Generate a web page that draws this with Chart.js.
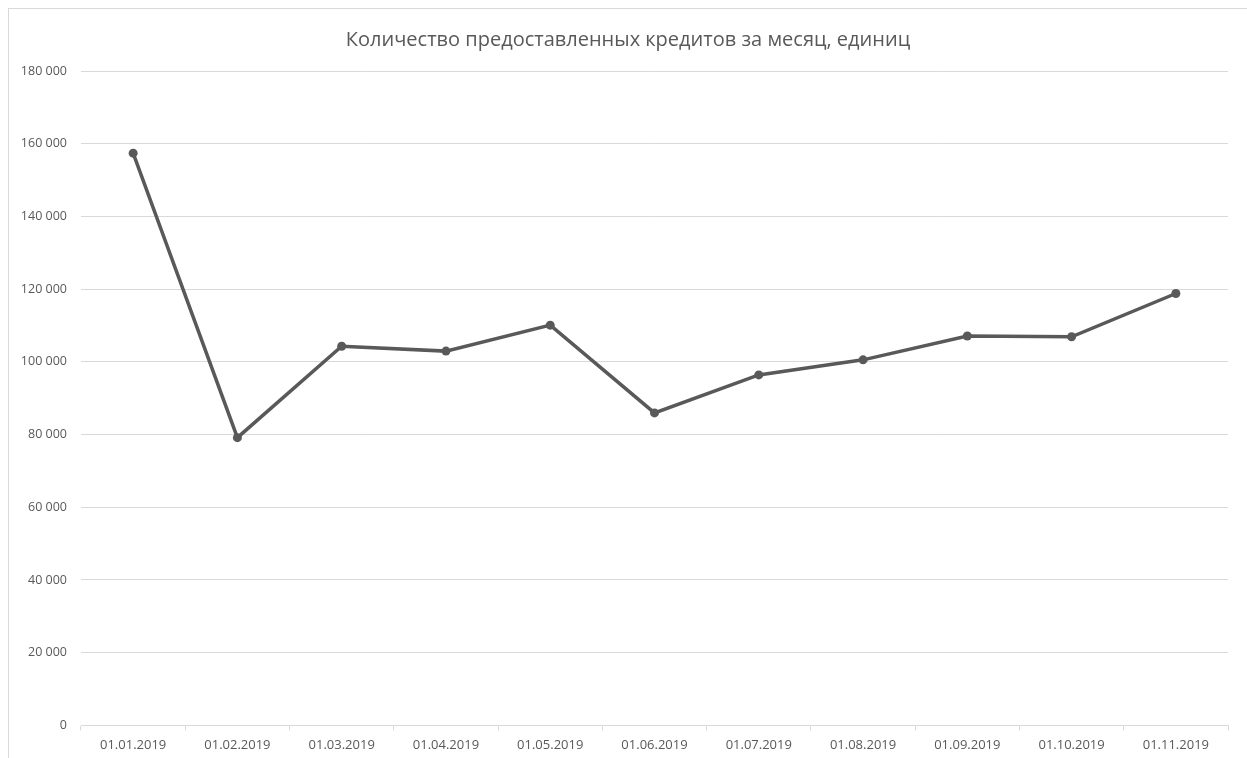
<!DOCTYPE html>
<html>
<head>
<meta charset="utf-8">
<script src="https://cdn.jsdelivr.net/npm/chart.js@4"></script>
<style>
  html, body { margin: 0; padding: 0; background: #fff; overflow: hidden; }
  #frame {
    position: absolute; left: 8px; top: 8px; width: 1260px; height: 780px;
    border: 1px solid #d9d9d9; box-sizing: border-box;
  }
  #wrap { position: absolute; left: 0; top: 0; width: 1247px; height: 764px; }
</style>
</head>
<body>
<div id="frame"></div>
<div id="wrap"><canvas id="myChart"></canvas></div>
<script>
// данные графика
var months = [
  "01.01.2019", "01.02.2019", "01.03.2019", "01.04.2019", "01.05.2019", "01.06.2019",
  "01.07.2019", "01.08.2019", "01.09.2019", "01.10.2019", "01.11.2019"
];
var credits = [157400, 79150, 104300, 102950, 110100, 85950, 96400, 100550, 107100, 106900, 118800];
var yMin = 0;
var yMax = 180000;
var yStep = 20000;

var chartTitle = "Количество предоставленных кредитов за месяц, единиц";

function formatNumber(v) {
  return String(v).replace(/\B(?=(\d{3})+(?!\d))/g, " ");
}

var textColor = "#595959";
var gridColor = "#d9d9d9";
var fontName = "Open Sans";

// заголовок рисуем сами: по центру всего блока, а не области графика
var titlePlugin = {
  id: "excelTitle",
  afterDraw: function (chart) {
    var c = chart.ctx;
    c.save();
    c.font = "20px '" + fontName + "'";
    c.fillStyle = textColor;
    c.textAlign = "center";
    c.textBaseline = "middle";
    c.fillText(chartTitle, 628, 40);
    c.restore();
  },
};

var ctx = document.getElementById("myChart").getContext("2d");
var chart = new Chart(ctx, {
  type: "line",
  data: {
    labels: months,
    datasets: [
      {
        label: "Кредиты",
        data: credits,
        borderColor: "#595959",
        backgroundColor: "#595959",
        borderWidth: 3.5,
        pointRadius: 4.5,
        pointBorderWidth: 0,
        pointBackgroundColor: "#595959",
        tension: 0,
        fill: false,
      },
    ],
  },
  plugins: [titlePlugin],
  options: {
    responsive: true,
    maintainAspectRatio: false,
    animation: false,
    layout: {
      padding: { left: 0, right: 19, top: 71, bottom: 4 },
    },
    plugins: {
      legend: { display: false },
      tooltip: { enabled: false },
      title: { display: false },
    },
    scales: {
      x: {
        offset: true,
        grid: {
          offset: true,
          drawOnChartArea: false,
          drawTicks: true,
          tickLength: 5,
          color: gridColor,
        },
        border: { display: true, color: gridColor, width: 1 },
        ticks: {
          color: textColor,
          font: { family: fontName, size: 13 },
          padding: 7,
          maxRotation: 0,
          autoSkip: false,
        },
      },
      y: {
        min: yMin,
        max: yMax,
        grid: { color: gridColor, drawTicks: false },
        border: { display: false },
        ticks: {
          stepSize: yStep,
          color: textColor,
          font: { family: fontName, size: 12.5 },
          padding: 14,
          callback: function (value) {
            return formatNumber(value);
          },
        },
        afterFit: function (scale) {
          scale.width = 81;
        },
      },
    },
  },
});
</script>
</body>
</html>
